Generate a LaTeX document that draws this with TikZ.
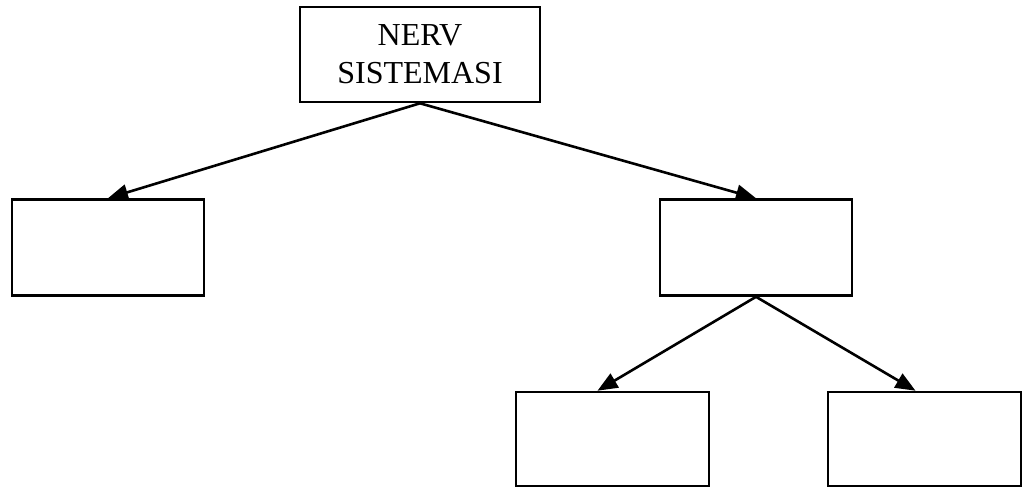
\documentclass[tikz,border=0pt]{standalone}
\usepackage{fontspec}
\setmainfont{Liberation Serif}
\usetikzlibrary{arrows.meta,positioning}

\begin{document}
\begin{tikzpicture}
    [x=0.5pt, y=-0.5pt, >={Triangle[length=10pt,width=8pt]},
    box/.style = {rectangle, draw, line width=1.3pt, minimum width=96pt,
      minimum height=48pt, inner sep=0pt},
    link/.style = {->, line width=1.3pt}]

  \useasboundingbox (0,0) rectangle (1022,487);

  \node[box, minimum width=120pt, minimum height=47.5pt,
    align=center, font=\fontsize{16}{19}\selectfont] (nerv) at (420,54.5)
    {NERV\\SISTEMASI};
  \node[box] (left) at (108,247.5) {};
  \node[box] (right) at (756,247.5) {};
  \node[box, minimum width=96.5pt, minimum height=47pt] (botl) at (612.5,439) {};
  \node[box, minimum width=96.5pt, minimum height=47pt] (botr) at (924.5,439) {};

  \draw[link] (nerv.south) -- (left.north);
  \draw[link] (nerv.south) -- (right.north);
  \draw[link] (right.south) -- ([xshift=-7.5pt]botl.north);
  \draw[link] (right.south) -- ([xshift=-4.5pt]botr.north);

\end{tikzpicture}
\end{document}
